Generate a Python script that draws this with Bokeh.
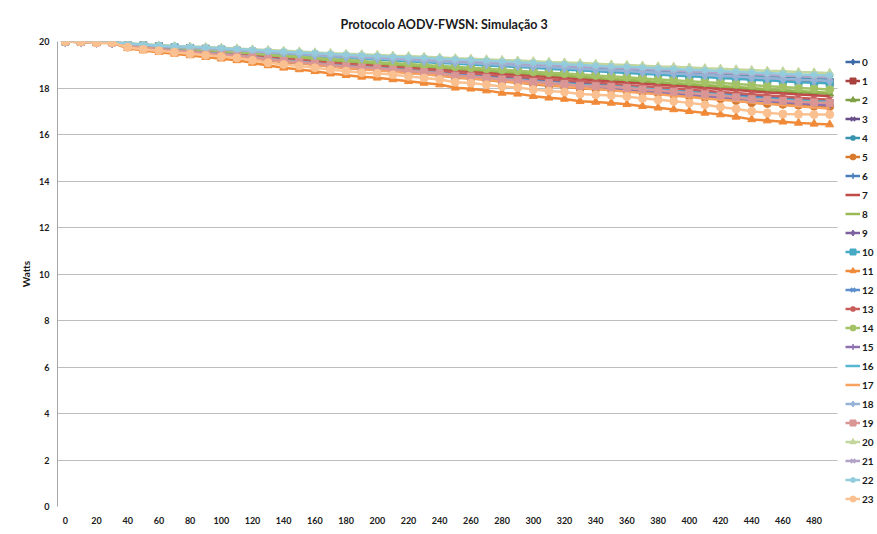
from bokeh.plotting import figure
from bokeh.models import Legend, LegendItem, FixedTicker, Range1d, BoxAnnotation
from bokeh.embed import file_html
from bokeh.resources import INLINE

# ---------------- data ----------------
tempo = [0, 10, 20, 30, 40, 50, 60, 70, 80, 90, 100, 110, 120, 130, 140, 150, 160, 170, 180, 190,
         200, 210, 220, 230, 240, 250, 260, 270, 280, 290, 300, 310, 320, 330, 340, 350, 360, 370, 380, 390,
         400, 410, 420, 430, 440, 450, 460, 470, 480, 490]
x_tick_labels = [0, 20, 40, 60, 80, 100, 120, 140, 160, 180, 200, 220, 240, 260, 280, 300, 320, 340,
                 360, 380, 400, 420, 440, 460, 480]
y_tick_labels = [0, 2, 4, 6, 8, 10, 12, 14, 16, 18, 20]
series_names = [str(i) for i in range(24)]

serie_0 = [20.00, 19.99, 19.97, 19.96, 19.84, 19.77, 19.70, 19.64, 19.58, 19.53, 19.48, 19.42, 19.35, 19.29, 19.22, 19.17, 19.10, 19.04, 18.99, 18.93, 18.88, 18.83, 18.78, 18.73, 18.67, 18.62, 18.57, 18.52, 18.47, 18.41, 18.36, 18.31, 18.26, 18.21, 18.15, 18.10, 18.05, 18.00, 17.95, 17.89, 17.84, 17.79, 17.74, 17.69, 17.63, 17.58, 17.53, 17.48, 17.44, 17.40]
serie_1 = [20.00, 19.99, 19.98, 19.97, 19.90, 19.84, 19.80, 19.76, 19.72, 19.69, 19.65, 19.61, 19.56, 19.52, 19.48, 19.44, 19.40, 19.35, 19.32, 19.28, 19.25, 19.21, 19.18, 19.14, 19.11, 19.07, 19.04, 19.00, 18.97, 18.93, 18.90, 18.86, 18.83, 18.79, 18.76, 18.72, 18.69, 18.65, 18.62, 18.58, 18.55, 18.51, 18.48, 18.44, 18.41, 18.37, 18.34, 18.30, 18.28, 18.25]
serie_2 = [20.00, 19.99, 19.98, 19.97, 19.87, 19.80, 19.74, 19.69, 19.64, 19.60, 19.55, 19.49, 19.44, 19.38, 19.33, 19.28, 19.22, 19.17, 19.12, 19.08, 19.03, 18.99, 18.94, 18.90, 18.85, 18.81, 18.76, 18.72, 18.67, 18.63, 18.58, 18.54, 18.49, 18.45, 18.40, 18.36, 18.31, 18.27, 18.22, 18.18, 18.13, 18.09, 18.04, 18.00, 17.95, 17.91, 17.86, 17.82, 17.78, 17.75]
serie_3 = [20.00, 19.99, 19.97, 19.96, 19.84, 19.76, 19.69, 19.62, 19.57, 19.51, 19.46, 19.39, 19.33, 19.26, 19.19, 19.14, 19.07, 19.00, 18.95, 18.89, 18.84, 18.79, 18.73, 18.68, 18.62, 18.57, 18.52, 18.46, 18.41, 18.35, 18.30, 18.25, 18.19, 18.14, 18.08, 18.03, 17.98, 17.92, 17.87, 17.81, 17.76, 17.71, 17.65, 17.60, 17.54, 17.49, 17.44, 17.38, 17.34, 17.30]
serie_4 = [20.00, 19.99, 19.98, 19.98, 19.90, 19.86, 19.82, 19.78, 19.74, 19.71, 19.68, 19.64, 19.60, 19.56, 19.52, 19.49, 19.45, 19.41, 19.38, 19.34, 19.31, 19.28, 19.25, 19.22, 19.18, 19.15, 19.12, 19.09, 19.06, 19.02, 18.99, 18.96, 18.93, 18.90, 18.86, 18.83, 18.80, 18.77, 18.74, 18.70, 18.67, 18.64, 18.61, 18.58, 18.54, 18.51, 18.48, 18.45, 18.42, 18.40]
serie_5 = [20.00, 19.98, 19.95, 19.95, 19.77, 19.70, 19.64, 19.59, 19.53, 19.47, 19.42, 19.36, 19.28, 19.19, 19.11, 19.06, 19.00, 18.92, 18.86, 18.81, 18.78, 18.72, 18.66, 18.60, 18.55, 18.44, 18.41, 18.35, 18.27, 18.24, 18.16, 18.10, 18.06, 17.98, 17.96, 17.93, 17.88, 17.82, 17.77, 17.71, 17.65, 17.59, 17.54, 17.46, 17.37, 17.33, 17.30, 17.26, 17.22, 17.20]
serie_6 = [20.00, 19.99, 19.97, 19.96, 19.85, 19.77, 19.71, 19.64, 19.59, 19.54, 19.49, 19.43, 19.36, 19.30, 19.24, 19.18, 19.12, 19.06, 19.01, 18.95, 18.90, 18.85, 18.80, 18.75, 18.70, 18.65, 18.60, 18.55, 18.50, 18.44, 18.39, 18.34, 18.29, 18.24, 18.19, 18.14, 18.09, 18.04, 17.99, 17.93, 17.88, 17.83, 17.78, 17.73, 17.68, 17.63, 17.58, 17.53, 17.49, 17.45]
serie_7 = [20.00, 19.99, 19.98, 19.97, 19.86, 19.79, 19.73, 19.67, 19.62, 19.58, 19.53, 19.47, 19.41, 19.35, 19.30, 19.25, 19.19, 19.13, 19.08, 19.04, 18.99, 18.94, 18.90, 18.85, 18.80, 18.75, 18.71, 18.66, 18.61, 18.57, 18.52, 18.47, 18.43, 18.38, 18.33, 18.28, 18.24, 18.19, 18.14, 18.10, 18.05, 18.00, 17.96, 17.91, 17.86, 17.81, 17.77, 17.72, 17.69, 17.65]
serie_8 = [20.00, 19.99, 19.98, 19.97, 19.87, 19.80, 19.75, 19.69, 19.65, 19.60, 19.56, 19.51, 19.45, 19.40, 19.34, 19.30, 19.24, 19.19, 19.14, 19.10, 19.05, 19.01, 18.97, 18.92, 18.88, 18.83, 18.79, 18.75, 18.70, 18.66, 18.61, 18.57, 18.53, 18.48, 18.44, 18.39, 18.35, 18.31, 18.26, 18.22, 18.17, 18.13, 18.09, 18.04, 18.00, 17.95, 17.91, 17.87, 17.83, 17.80]
serie_9 = [20.00, 19.99, 19.97, 19.96, 19.84, 19.76, 19.70, 19.63, 19.58, 19.52, 19.47, 19.40, 19.34, 19.27, 19.21, 19.15, 19.09, 19.02, 18.97, 18.91, 18.86, 18.81, 18.75, 18.70, 18.65, 18.60, 18.54, 18.49, 18.44, 18.38, 18.33, 18.28, 18.22, 18.17, 18.12, 18.07, 18.01, 17.96, 17.91, 17.85, 17.80, 17.75, 17.69, 17.64, 17.59, 17.54, 17.48, 17.43, 17.39, 17.35]
serie_10 = [20.00, 19.99, 19.98, 19.97, 19.89, 19.84, 19.79, 19.75, 19.71, 19.68, 19.64, 19.60, 19.55, 19.51, 19.46, 19.42, 19.38, 19.33, 19.30, 19.26, 19.23, 19.19, 19.15, 19.12, 19.08, 19.05, 19.01, 18.97, 18.94, 18.90, 18.87, 18.83, 18.79, 18.76, 18.72, 18.69, 18.65, 18.61, 18.58, 18.54, 18.51, 18.47, 18.43, 18.40, 18.36, 18.33, 18.29, 18.25, 18.23, 18.20]
serie_11 = [20.00, 19.97, 19.94, 19.94, 19.71, 19.61, 19.54, 19.47, 19.40, 19.33, 19.26, 19.19, 19.08, 18.97, 18.87, 18.80, 18.72, 18.62, 18.55, 18.48, 18.44, 18.37, 18.29, 18.22, 18.15, 18.01, 17.97, 17.89, 17.79, 17.75, 17.65, 17.58, 17.53, 17.43, 17.40, 17.36, 17.30, 17.22, 17.15, 17.08, 17.00, 16.93, 16.86, 16.76, 16.65, 16.60, 16.55, 16.50, 16.46, 16.43]
serie_12 = [20.00, 19.98, 19.95, 19.95, 19.78, 19.71, 19.65, 19.60, 19.55, 19.49, 19.44, 19.39, 19.30, 19.22, 19.14, 19.09, 19.03, 18.96, 18.90, 18.85, 18.82, 18.77, 18.71, 18.65, 18.60, 18.50, 18.46, 18.40, 18.33, 18.30, 18.22, 18.17, 18.13, 18.06, 18.03, 18.01, 17.96, 17.90, 17.85, 17.79, 17.73, 17.68, 17.62, 17.55, 17.47, 17.43, 17.39, 17.35, 17.32, 17.30]
serie_13 = [20.00, 19.99, 19.98, 19.96, 19.85, 19.78, 19.71, 19.65, 19.60, 19.55, 19.50, 19.44, 19.38, 19.31, 19.25, 19.20, 19.14, 19.08, 19.03, 18.98, 18.93, 18.88, 18.83, 18.78, 18.73, 18.68, 18.63, 18.58, 18.53, 18.48, 18.43, 18.38, 18.33, 18.28, 18.23, 18.18, 18.13, 18.08, 18.03, 17.98, 17.93, 17.88, 17.83, 17.78, 17.73, 17.68, 17.63, 17.58, 17.54, 17.50]
serie_14 = [20.00, 19.99, 19.98, 19.97, 19.88, 19.82, 19.76, 19.71, 19.67, 19.63, 19.59, 19.54, 19.49, 19.43, 19.38, 19.34, 19.29, 19.24, 19.20, 19.16, 19.11, 19.07, 19.03, 18.99, 18.95, 18.91, 18.87, 18.83, 18.79, 18.74, 18.70, 18.66, 18.62, 18.58, 18.54, 18.50, 18.46, 18.41, 18.37, 18.33, 18.29, 18.25, 18.21, 18.17, 18.13, 18.08, 18.04, 18.00, 17.97, 17.94]
serie_15 = [20.00, 19.99, 19.97, 19.96, 19.84, 19.75, 19.68, 19.62, 19.56, 19.51, 19.45, 19.38, 19.31, 19.24, 19.18, 19.12, 19.05, 18.98, 18.93, 18.87, 18.82, 18.76, 18.71, 18.65, 18.60, 18.54, 18.49, 18.43, 18.38, 18.32, 18.27, 18.21, 18.16, 18.10, 18.05, 17.99, 17.94, 17.88, 17.83, 17.77, 17.72, 17.66, 17.61, 17.55, 17.50, 17.44, 17.39, 17.33, 17.29, 17.25]
serie_16 = [20.00, 19.98, 19.96, 19.96, 19.79, 19.72, 19.67, 19.62, 19.56, 19.51, 19.46, 19.41, 19.33, 19.25, 19.18, 19.13, 19.07, 18.99, 18.94, 18.89, 18.86, 18.81, 18.76, 18.70, 18.65, 18.55, 18.52, 18.46, 18.39, 18.36, 18.29, 18.24, 18.20, 18.13, 18.11, 18.08, 18.03, 17.98, 17.93, 17.87, 17.82, 17.76, 17.71, 17.64, 17.56, 17.53, 17.49, 17.45, 17.42, 17.40]
serie_17 = [20.00, 19.99, 19.97, 19.96, 19.83, 19.74, 19.67, 19.60, 19.54, 19.48, 19.42, 19.35, 19.28, 19.21, 19.14, 19.08, 19.01, 18.93, 18.88, 18.82, 18.76, 18.70, 18.65, 18.59, 18.53, 18.47, 18.42, 18.36, 18.30, 18.24, 18.19, 18.13, 18.07, 18.01, 17.96, 17.90, 17.84, 17.78, 17.73, 17.67, 17.61, 17.55, 17.49, 17.44, 17.38, 17.32, 17.26, 17.21, 17.16, 17.12]
serie_18 = [20.00, 19.99, 19.98, 19.97, 19.90, 19.85, 19.80, 19.76, 19.73, 19.69, 19.66, 19.62, 19.58, 19.53, 19.49, 19.46, 19.41, 19.37, 19.34, 19.30, 19.27, 19.24, 19.20, 19.17, 19.13, 19.10, 19.07, 19.03, 19.00, 18.96, 18.93, 18.90, 18.86, 18.83, 18.79, 18.76, 18.73, 18.69, 18.66, 18.62, 18.59, 18.56, 18.52, 18.49, 18.45, 18.42, 18.39, 18.35, 18.33, 18.30]
serie_19 = [20.00, 19.98, 19.96, 19.96, 19.79, 19.71, 19.66, 19.61, 19.56, 19.50, 19.45, 19.40, 19.32, 19.24, 19.16, 19.11, 19.05, 18.98, 18.93, 18.88, 18.85, 18.79, 18.74, 18.68, 18.63, 18.53, 18.50, 18.44, 18.37, 18.34, 18.26, 18.21, 18.17, 18.10, 18.08, 18.05, 18.00, 17.94, 17.89, 17.84, 17.78, 17.73, 17.68, 17.60, 17.52, 17.49, 17.45, 17.41, 17.38, 17.36]
serie_20 = [20.00, 19.99, 19.99, 19.98, 19.92, 19.88, 19.85, 19.81, 19.78, 19.76, 19.73, 19.70, 19.66, 19.63, 19.60, 19.57, 19.53, 19.50, 19.47, 19.45, 19.42, 19.39, 19.37, 19.34, 19.31, 19.28, 19.26, 19.23, 19.20, 19.18, 19.15, 19.12, 19.10, 19.07, 19.04, 19.01, 18.99, 18.96, 18.93, 18.91, 18.88, 18.85, 18.83, 18.80, 18.77, 18.74, 18.72, 18.69, 18.67, 18.65]
serie_21 = [20.00, 19.99, 19.98, 19.98, 19.91, 19.86, 19.82, 19.78, 19.75, 19.72, 19.69, 19.65, 19.61, 19.57, 19.54, 19.50, 19.47, 19.43, 19.40, 19.36, 19.33, 19.30, 19.27, 19.24, 19.21, 19.18, 19.15, 19.12, 19.09, 19.05, 19.02, 18.99, 18.96, 18.93, 18.90, 18.87, 18.84, 18.81, 18.78, 18.74, 18.71, 18.68, 18.65, 18.62, 18.59, 18.56, 18.53, 18.50, 18.47, 18.45]
serie_22 = [20.00, 19.99, 19.99, 19.98, 19.91, 19.87, 19.83, 19.80, 19.77, 19.74, 19.71, 19.67, 19.64, 19.60, 19.56, 19.53, 19.50, 19.46, 19.43, 19.40, 19.37, 19.34, 19.31, 19.29, 19.26, 19.23, 19.20, 19.17, 19.14, 19.11, 19.08, 19.05, 19.02, 18.99, 18.96, 18.93, 18.91, 18.88, 18.85, 18.82, 18.79, 18.76, 18.73, 18.70, 18.67, 18.64, 18.61, 18.58, 18.56, 18.54]
serie_23 = [20.00, 19.98, 19.95, 19.95, 19.75, 19.66, 19.60, 19.54, 19.47, 19.41, 19.35, 19.29, 19.19, 19.09, 19.01, 18.95, 18.87, 18.79, 18.73, 18.66, 18.63, 18.57, 18.50, 18.43, 18.37, 18.25, 18.21, 18.14, 18.06, 18.02, 17.93, 17.87, 17.83, 17.74, 17.71, 17.68, 17.63, 17.55, 17.49, 17.43, 17.36, 17.28, 17.18, 17.10, 17.00, 16.93, 16.88, 16.87, 16.86, 16.86]

all_series = [serie_0, serie_1, serie_2, serie_3, serie_4, serie_5, serie_6, serie_7, serie_8, serie_9,
              serie_10, serie_11, serie_12, serie_13, serie_14, serie_15, serie_16, serie_17, serie_18,
              serie_19, serie_20, serie_21, serie_22, serie_23]

# ---------------- styles ----------------
colors = ["#3D69A6", "#A8403D", "#7FA044", "#674D89", "#3794AE", "#D87A2E",
          "#4A7EBB", "#BE4B48", "#98B954", "#7D60A0", "#46AAC5", "#F08A38",
          "#5B8CCB", "#C85E5B", "#A3C266", "#8D72AF", "#57B6D0", "#F7A260",
          "#95B3D7", "#D99694", "#C3D69B", "#B3A2C7", "#93CDDD", "#FAC090"]
markers = ["diamond", "square", "triangle", "x", "asterisk", "circle", "cross", None, None,
           "diamond", "square", "triangle", "x", "asterisk", "circle", "cross", None, None,
           "diamond", "square", "triangle", "x", "asterisk", "circle"]
msize = {"diamond": 10, "square": 7, "triangle": 8, "x": 7, "asterisk": 8, "circle": 8, "cross": 8}

FONT = "Lato"
X_END = 495          # right end of the category band of the data
PX_PER_UNIT = 1.56   # 780 px for 500 units

# frame covers plot area + legend strip; the strip right of X_END is blanked out
FRAME_W = 818
p = figure(frame_width=FRAME_W, frame_height=465, output_backend="svg", toolbar_location=None,
           x_range=Range1d(-5, -5 + FRAME_W / PX_PER_UNIT), y_range=Range1d(0, 20),
           min_border_left=57, min_border_right=0, min_border_top=41, min_border_bottom=23,
           title="Protocolo AODV-FWSN: Simulação 3")
p.outline_line_color = None
p.background_fill_color = "white"
p.border_fill_color = "white"

p.title.align = "left"
p.title.offset = 283
p.title.standoff = 20
p.title.text_font = FONT
p.title.text_font_size = "12.5px"
p.title.text_font_style = "bold"
p.title.text_color = "#1a1a1a"

p.xaxis.ticker = FixedTicker(ticks=x_tick_labels)
p.yaxis.ticker = FixedTicker(ticks=y_tick_labels)
for ax in (p.xaxis[0], p.yaxis[0]):
    ax.major_tick_out = 0
    ax.major_tick_in = 0
    ax.minor_tick_out = 0
    ax.minor_tick_in = 0
    ax.major_label_text_font = FONT
    ax.major_label_text_font_size = "9px"
    ax.major_label_text_font_style = "bold"
    ax.major_label_text_color = "#1a1a1a"
p.yaxis.axis_line_color = "#a6a6a6"
p.xaxis.axis_line_color = None      # bottom line comes from the y=0 grid line
p.xaxis.major_label_standoff = 10
p.yaxis.major_label_standoff = 8
p.yaxis.axis_label = "Watts"
p.yaxis.axis_label_text_font = FONT
p.yaxis.axis_label_text_font_size = "10px"
p.yaxis.axis_label_text_font_style = "bold"
p.yaxis.axis_label_text_color = "#1a1a1a"
p.yaxis.axis_label_standoff = 4
p.xgrid.grid_line_color = None
p.ygrid.grid_line_color = "#bdbdbd"
p.ygrid.grid_line_width = 1

items = []
for name, ys, col, mk in zip(series_names, all_series, colors, markers):
    rends = [p.line(tempo, ys, line_color=col, line_width=2.5)]
    if mk is not None:
        if mk in ("x", "asterisk", "cross"):
            r = p.scatter(tempo, ys, marker=mk, size=msize[mk], line_color=col, line_width=1.5,
                          fill_color=None)
        else:
            r = p.scatter(tempo, ys, marker=mk, size=msize[mk], line_color=col, line_width=1,
                          fill_color=col)
        rends.append(r)
    items.append(LegendItem(label=name, renderers=rends))

# blank strip (legend area) to the right of the plot area
p.add_layout(BoxAnnotation(left=X_END, fill_color="white", fill_alpha=1.0, line_color=None))

legend = Legend(items=items, location=(788, -2), orientation="vertical",
                glyph_width=15, glyph_height=19, label_height=19, label_width=12, spacing=0,
                label_standoff=2, padding=0, margin=0,
                label_text_font=FONT, label_text_font_size="10px", label_text_font_style="bold",
                label_text_color="#1a1a1a", border_line_color=None, background_fill_alpha=0)
p.add_layout(legend, "center")

open("out.html", "w").write(file_html(p, INLINE))
